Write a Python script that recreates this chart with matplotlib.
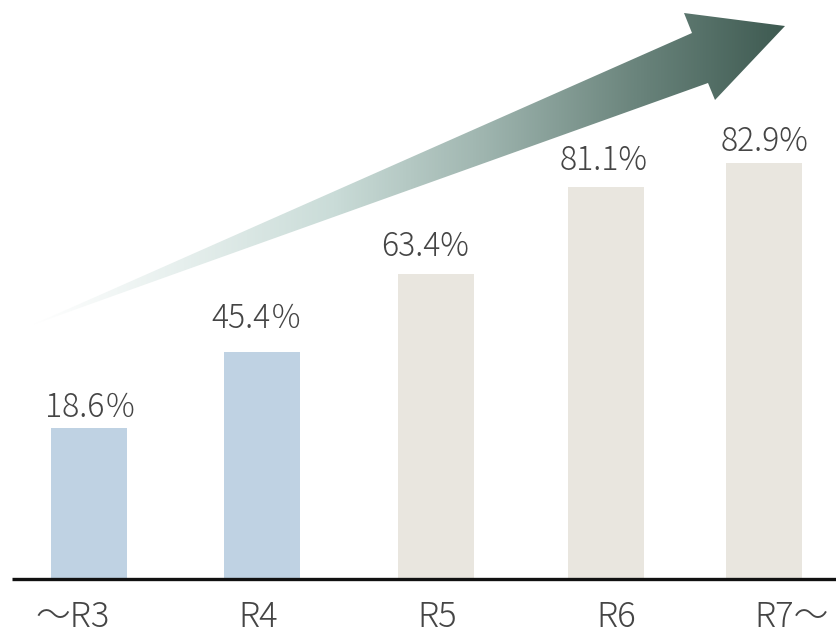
import numpy as np
import matplotlib
matplotlib.use('Agg')
import matplotlib.pyplot as plt
from matplotlib.colors import LinearSegmentedColormap
from matplotlib.patches import Polygon

plt.rcParams['font.family'] = ['Noto Sans CJK JP', 'DejaVu Sans']

# data
categories = ['～R3', 'R4', 'R5', 'R6', 'R7～']
value_labels = ['18.6％', '45.4％', '63.4%', '81.1%', '82.9%']
bar_heights = [151, 227, 305, 392, 416]   # drawn height (the picture is not to scale)
bar_colors = ['#bfd2e3', '#bfd2e3', '#e9e6df', '#e9e6df', '#e9e6df']

# layout (pixel-like units, baseline at y=0)
x_pos = [89, 262, 436, 606, 764]
label_x = [73, 258, 437, 616, 792]
value_x = [91, 257, 425, 604, 765]
value_gap = [11, 24, 18, 17, 12]
bar_w = 76
H = 631
base = 579

fig = plt.figure(figsize=(8.37, 6.31), dpi=100)
ax = fig.add_axes([0, 0, 1, 1])
ax.set_xlim(0, 837)
ax.set_ylim(base - H, base)
ax.axis('off')

ax.bar(x_pos, bar_heights, width=bar_w, color=bar_colors, zorder=2)
ax.plot([12, 837], [0, 0], color='#111111', lw=2.4, solid_capstyle='butt', zorder=3)

for x, h, g, t in zip(value_x, bar_heights, value_gap, value_labels):
    ax.text(x, h + g, t, ha='center', va='baseline', fontsize=23,
            color='#454545', fontweight='light')

for x, t in zip(label_x, categories):
    ax.text(x, -48, t, ha='center', va='baseline', fontsize=25,
            color='#454545', fontweight='light')


# gradient arrow, given in image pixels (y from top)
def py(y):
    return base - y

arrow_px = [(32, 325), (692, 33), (684, 13), (785, 26), (715, 100), (708, 83)]
arrow_pts = [(x, py(y)) for x, y in arrow_px]
poly = Polygon(arrow_pts, closed=True, facecolor='none', edgecolor='none')
ax.add_patch(poly)

cmap = LinearSegmentedColormap.from_list(
    'arr', ['#ffffff', '#e6efed', '#cadcd8', '#9fb5af', '#6b857d', '#3e5a51'])
grad = np.linspace(0, 1, 512).reshape(1, -1)
im = ax.imshow(grad, cmap=cmap, aspect='auto', extent=[32, 785, py(330), py(10)],
               origin='lower', zorder=1, interpolation='bilinear')
im.set_clip_path(poly)
ax.set_xlim(0, 837)
ax.set_ylim(base - H, base)

fig.savefig('out.png', dpi=100, facecolor='white')
